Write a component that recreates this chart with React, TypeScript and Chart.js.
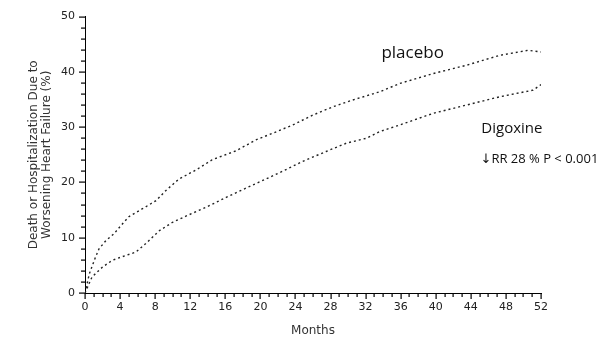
import React, { useEffect, useRef } from 'react';
import { Chart, registerables } from 'chart.js';

Chart.register(...registerables);

const placeboMonths = [0, 0.5, 1.2, 1.6, 2.4, 3.3, 4.1, 5.0, 6.5, 8.1, 9.2, 10.7, 12.7, 14.5, 17.2, 19.5, 21.4, 23.7, 26.0, 28.3, 30.5, 33.6, 35.9, 39.7, 43.5, 47.3, 50.5, 52];
const placeboValues = [0, 3.5, 6.5, 8.0, 9.5, 10.7, 12.2, 13.8, 15.2, 16.7, 18.5, 20.6, 22.3, 24.1, 25.7, 27.7, 28.9, 30.4, 32.2, 33.7, 34.9, 36.4, 37.9, 39.7, 41.2, 43.0, 43.9, 43.6];

const digoxinMonths = [0, 0.8, 2.0, 3.1, 4.3, 5.8, 6.9, 8.5, 10.0, 11.5, 13.8, 16.1, 18.4, 20.6, 22.5, 24.8, 27.5, 29.8, 32.1, 33.6, 35.9, 39.7, 43.5, 47.3, 51.1, 52];
const digoxinValues = [0, 2.9, 4.7, 5.9, 6.6, 7.4, 8.9, 11.3, 12.8, 13.9, 15.5, 17.3, 19.0, 20.6, 22.0, 23.8, 25.6, 27.1, 28.0, 29.2, 30.4, 32.5, 34.0, 35.5, 36.7, 37.7];

const xMin = 0;
const xMax = 52;
const xMajorStep = 4;
const xMinorStep = 1;
const yMin = 0;
const yMax = 50;
const yMajorStep = 10;
const yMinorStep = 2;

const yAxisTitle = ['Death or Hospitalization Due to', 'Worsening Heart Failure (%)'];
const xAxisTitle = 'Months';
const placeboLabel = 'placebo';
const digoxinLabel = 'Digoxine';
const statLabel = '\u2193RR 28 % P < 0.001';

const toPoints = (xs: number[], ys: number[]) => xs.map((x, i) => ({ x, y: ys[i] }));

const overlayPlugin = {
  id: 'overlay',
  afterDraw(chart: any) {
    const ctx = chart.ctx;
    const x = chart.scales.x;
    const y = chart.scales.y;
    const area = chart.chartArea;
    ctx.save();
    ctx.setLineDash([]);
    ctx.fillStyle = '#000';
    const nY = Math.round((yMax - yMin) / yMinorStep);
    for (let i = 0; i <= nY; i++) {
      const v = yMin + i * yMinorStep;
      const py = Math.round(y.getPixelForValue(v));
      const len = v % yMajorStep === 0 ? 6 : 4;
      ctx.fillRect(Math.round(area.left) - len, py - 0.5, len, 1.2);
    }
    const nX = Math.round((xMax - xMin) / xMinorStep);
    for (let i = 0; i <= nX; i++) {
      const m = xMin + i * xMinorStep;
      const px = Math.round(x.getPixelForValue(m));
      const len = m % xMajorStep === 0 ? 6 : 4;
      ctx.fillRect(px - 0.5, Math.round(area.bottom), 1.2, len);
    }

    ctx.fillStyle = '#111';
    ctx.textBaseline = 'alphabetic';
    ctx.textAlign = 'left';
    ctx.font = '17px "Open Sans"';
    ctx.fillText(placeboLabel, x.getPixelForValue(33.8), y.getPixelForValue(42.5));
    ctx.font = '15px "Open Sans"';
    ctx.fillText(digoxinLabel, x.getPixelForValue(45.2), y.getPixelForValue(28.9));
    ctx.font = '13px "Open Sans", "DejaVu Sans"';
    ctx.fillText(statLabel, x.getPixelForValue(45.1), y.getPixelForValue(23.5));
    ctx.restore();
  },
};

export default function App() {
  const canvasRef = useRef<HTMLCanvasElement | null>(null);

  useEffect(() => {
    if (!canvasRef.current) return;
    const lineStyle = {
      borderColor: '#222',
      borderWidth: 1.4,
      borderDash: [2, 3],
      pointRadius: 0,
      tension: 0,
      fill: false,
    };
    const chart = new Chart(canvasRef.current, {
      type: 'line',
      data: {
        datasets: [
          { label: 'placebo', data: toPoints(placeboMonths, placeboValues), ...lineStyle },
          { label: 'Digoxine', data: toPoints(digoxinMonths, digoxinValues), ...lineStyle },
        ],
      },
      options: {
        animation: false,
        responsive: false,
        layout: { padding: { top: 14, right: 73, left: 0, bottom: 0 } },
        plugins: { legend: { display: false }, tooltip: { enabled: false } },
        scales: {
          x: {
            type: 'linear',
            min: xMin,
            max: xMax,
            afterFit: (scale: any) => { scale.height = 45; },
            ticks: { stepSize: xMajorStep, autoSkip: false, maxRotation: 0, padding: 8, color: '#222', font: { family: 'DejaVu Sans', size: 11 } },
            grid: { display: true, drawOnChartArea: false, drawTicks: false, color: 'rgba(0,0,0,0)' },
            border: { display: true, color: '#000', width: 1 },
            title: { display: true, text: xAxisTitle, color: '#333', font: { family: 'DejaVu Sans', size: 12 }, padding: { top: 8, bottom: 0 } },
          },
          y: {
            type: 'linear',
            min: yMin,
            max: yMax,
            afterFit: (scale: any) => { scale.width = 85; },
            ticks: { stepSize: yMajorStep, autoSkip: false, padding: 10, color: '#222', font: { family: 'DejaVu Sans', size: 11 } },
            grid: { display: true, drawOnChartArea: false, drawTicks: false, color: 'rgba(0,0,0,0)' },
            border: { display: true, color: '#000', width: 1 },
            title: { display: true, text: yAxisTitle, color: '#333', font: { family: 'DejaVu Sans', size: 12, lineHeight: 1.12 }, padding: { top: 27, bottom: 0 } },
          },
        },
      },
      plugins: [overlayPlugin],
    });
    return () => chart.destroy();
  }, []);

  return (
    <div style={{ position: 'absolute', left: 0, top: 0, width: 614, height: 338, background: '#fff' }}>
      <canvas ref={canvasRef} width={614} height={338} />
    </div>
  );
}
